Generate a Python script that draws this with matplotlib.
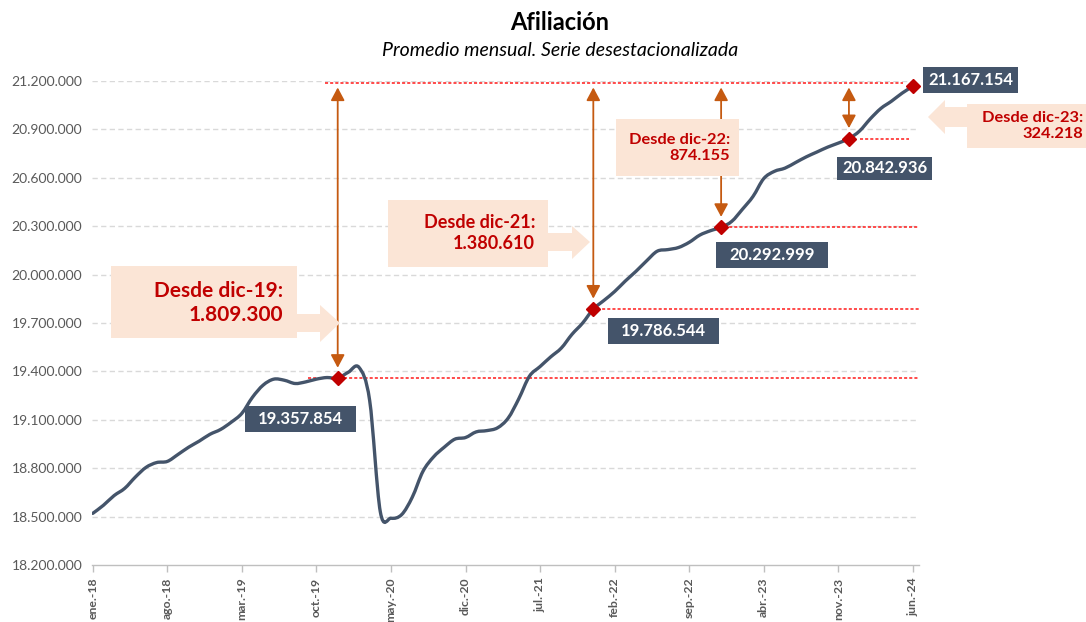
import numpy as np
import matplotlib
matplotlib.use("Agg")
import matplotlib.pyplot as plt
from matplotlib.path import Path
from matplotlib.patches import PathPatch, Polygon

# ---------------- data ----------------
month_abbr = ["ene", "feb", "mar", "abr", "may", "jun", "jul", "ago", "sep", "oct", "nov", "dic"]
years = ["18", "19", "20", "21", "22", "23", "24"]
categories = [f"{m}.-{y}" for y in years for m in month_abbr][:78]

values = [
    18520000, 18570000, 18630000, 18675000, 18745000, 18805000, 18835000, 18842000, 18885000, 18930000, 18968000, 19010000,
    19040000, 19085000, 19140000, 19240000, 19315000, 19352000, 19345000, 19325000, 19335000, 19352000, 19362000, 19357854,
    19395000, 19425000, 19220000, 18530000, 18490000, 18512000, 18620000, 18780000, 18870000, 18930000, 18980000, 18990000,
    19025000, 19033000, 19050000, 19110000, 19230000, 19370000, 19430000, 19490000, 19545000, 19630000, 19700000, 19786544,
    19840000, 19895000, 19960000, 20020000, 20085000, 20145000, 20155000, 20168000, 20200000, 20245000, 20272000, 20292999,
    20330000, 20405000, 20485000, 20595000, 20640000, 20660000, 20695000, 20730000, 20760000, 20790000, 20815000, 20842936,
    20890000, 20965000, 21030000, 21075000, 21125000, 21167154,
]

tick_labels = ["ene.-18", "ago.-18", "mar.-19", "oct.-19", "may.-20", "dic.-20",
               "jul.-21", "feb.-22", "sep.-22", "abr.-23", "nov.-23", "jun.-24"]
highlight_months = ["dic.-19", "dic.-21", "dic.-22", "dic.-23", "jun.-24"]
since_months = ["dic-19", "dic-21", "dic-22", "dic-23"]

title = "Afiliación"
subtitle = "Promedio mensual. Serie desestacionalizada"

# ---------------- style ----------------
plt.rcParams["font.family"] = ["Lato", "DejaVu Sans"]
plt.rcParams["lines.scale_dashes"] = False

LINE_C = "#44546A"
RED = "#C00000"
REDLINE = "#FF1A1A"
ORANGE = "#C55A11"
PEACH = "#FBE5D6"
GRID = "#D9D9D9"
AXIS_TXT = "#595959"

W, H = 1086, 622
fig = plt.figure(figsize=(W / 100, H / 100), dpi=100)
ax = fig.add_axes([92 / W, 57 / H, (919 - 92) / W, 484 / H])

n = len(values)
x = np.arange(n)
y = np.array(values, dtype=float)

YMIN, YMAX, YSTEP = 18200000, 21200000, 300000
ax.set_xlim(-0.07, 77.58)
ax.set_ylim(YMIN, YMAX)

def fmt(v):
    return f"{int(round(v)):,}".replace(",", ".")

yt = np.arange(YMIN, YMAX + 1, YSTEP)
ax.set_yticks(yt)
ax.set_yticklabels([fmt(v) for v in yt], fontsize=10, color=AXIS_TXT)
ax.tick_params(axis="y", length=0, pad=7)
for v in yt[1:]:
    ax.axhline(v, color=GRID, lw=1.0, linestyle=(0, (3.8, 2.4)), zorder=1)

cat_index = {c: i for i, c in enumerate(categories)}
ax.set_xticks([cat_index[t] for t in tick_labels])
ax.set_xticklabels(tick_labels, rotation=90, fontsize=8.8, color=AXIS_TXT,
                   fontweight="bold", va="top", ha="center")
ax.tick_params(axis="x", length=5, color="#BFBFBF", pad=4, width=1)

for s in ["top", "right", "left"]:
    ax.spines[s].set_visible(False)
ax.spines["bottom"].set_color("#BFBFBF")
ax.spines["bottom"].set_linewidth(1.0)

# ---------------- smooth line (Excel-like cubic Bezier) ----------------
P = np.column_stack([x, y])
verts = [tuple(P[0])]
codes = [Path.MOVETO]
for i in range(n - 1):
    p0 = P[i - 1] if i > 0 else P[i]
    p1 = P[i]
    p2 = P[i + 1]
    p3 = P[i + 2] if i + 2 < n else P[i + 1]
    c1 = p1 + (p2 - p0) / 6.0
    c2 = p2 - (p3 - p1) / 6.0
    verts += [tuple(c1), tuple(c2), tuple(p2)]
    codes += [Path.CURVE4] * 3
ax.add_patch(PathPatch(Path(verts, codes), facecolor="none", edgecolor=LINE_C,
                       lw=2.4, capstyle="round", joinstyle="round", zorder=3))

# ---------------- reference lines, arrows, markers ----------------
hi = [cat_index[m] for m in highlight_months]
hv = [values[i] for i in hi]
last_i, last_v = hi[-1], hv[-1]
REF_TOP = 21190000

ax.plot([21.8, 76.1], [REF_TOP, REF_TOP], color=REDLINE, lw=1.1,
        linestyle=(0, (2.2, 1.5)), zorder=2)
xr = ax.get_xlim()[1]
ref_ranges = [(20.2, xr), (hi[1] + 0.3, xr), (hi[2] + 0.3, xr), (hi[3] + 1.0, hi[3] + 5.6)]
for (xa, xb), v in zip(ref_ranges, hv[:4]):
    ax.plot([xa, xb], [v, v], color=REDLINE, lw=1.1, linestyle=(0, (2.2, 1.5)), zorder=2)

for i, v in zip(hi[:4], hv[:4]):
    ax.annotate("", xy=(i, REF_TOP), xytext=(i, v),
                arrowprops=dict(arrowstyle="<|-|>,head_length=0.6,head_width=0.32",
                                color=ORANGE, lw=1.3, shrinkA=7.5, shrinkB=3.5,
                                mutation_scale=13),
                zorder=4)

ax.plot(hi, hv, linestyle="none", marker="D", markersize=7.5, color=RED,
        markeredgecolor=RED, zorder=6, clip_on=False)

# ---------------- value labels ----------------
def rect_box(hpad, vtop, vbot):
    def f(x0, y0, width, height, mutation_size):
        return Path([(x0 - hpad, y0 - vbot), (x0 + width + hpad, y0 - vbot),
                     (x0 + width + hpad, y0 + height + vtop),
                     (x0 - hpad, y0 + height + vtop), (x0 - hpad, y0 - vbot)], closed=True)
    return f

label_offsets = [(-26.6, -29.5), (50.4, -15.8), (36.7, -20.2), (25.9, -20.9), (41.8, 4.3)]
label_hpads = [13, 13, 13, 5, 5]
label_vpads = [(5, 5), (5, 5), (5, 5), (3, 4), (5, 5)]
for (i, v), off, hp, (vt, vb) in zip(zip(hi, hv), label_offsets, label_hpads, label_vpads):
    ax.annotate(fmt(v), xy=(i, v), xytext=off, textcoords="offset points",
                ha="center", va="center", fontsize=12, fontweight="bold", color="white",
                bbox=dict(boxstyle=rect_box(hp, vt, vb), facecolor=LINE_C, edgecolor="none"),
                zorder=7, annotation_clip=False)

# ---------------- callouts ----------------
def F(px, py):
    return (px / W, 1 - py / H)

def add_shape(pts):
    ax.add_patch(Polygon([F(a, b) for a, b in pts], closed=True, facecolor=PEACH,
                         edgecolor="none", transform=fig.transFigure, clip_on=False, zorder=5))

add_shape([(111, 266), (297, 266), (297, 314), (320, 314), (320, 305), (340, 323),
           (320, 342), (320, 332), (297, 332), (297, 338), (111, 338)])
add_shape([(388, 200), (548, 200), (548, 233), (572, 233), (572, 226), (590, 242),
           (572, 259), (572, 251), (548, 251), (548, 267), (388, 267)])
add_shape([(616, 119), (739, 119), (739, 176), (616, 176)])
add_shape([(928, 117), (945, 100), (945, 107), (967, 107), (967, 104), (1086, 104),
           (1086, 148), (967, 148), (967, 127), (945, 127), (945, 134)])

gains = [fmt(last_v - v) for v in hv[:4]]
callout_pos = [(283, 303, 15, 1.2), (535, 233, 13, 1.22), (730, 148, 11.8, 1.18), (1083, 126, 11.8, 1.2)]
for (px, py, fs, ls), m, g in zip(callout_pos, since_months, gains):
    ax.text(*F(px, py), f"Desde {m}:\n{g}", transform=fig.transFigure, ha="right",
            va="center", multialignment="right", fontsize=fs, fontweight="bold",
            color=RED, linespacing=ls, zorder=8)

# ---------------- titles ----------------
fig.text(560 / W, 1 - 22 / H, title, ha="center", va="center", fontsize=17,
         fontweight="bold", color="black")
fig.text(560 / W, 1 - 50 / H, subtitle, ha="center", va="center", fontsize=14,
         style="italic", color="black")

fig.savefig("out.png", dpi=100)
